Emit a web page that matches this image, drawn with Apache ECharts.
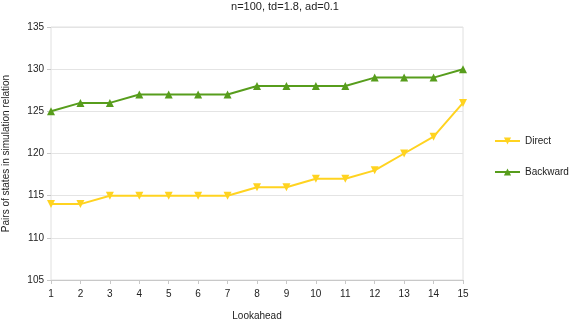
<!DOCTYPE html>
<html><head><meta charset="utf-8">
<script src="https://cdn.jsdelivr.net/npm/echarts@6/dist/echarts.min.js"></script>
<style>html,body{margin:0;padding:0;background:#fff}#c{width:570px;height:320px}</style>
</head><body><div id="c"></div>
<script>
const categories = ['1','2','3','4','5','6','7','8','9','10','11','12','13','14','15'];
const directValues = [114,114,115,115,115,115,115,116,116,117,117,118,120,122,126];
const backwardValues = [125,126,126,127,127,127,127,128,128,128,128,129,129,129,130];
const titleText = 'n=100, td=1.8, ad=0.1';
const yName = 'Pairs of states in simulation relation';
const xName = 'Lookahead';

const font = '"Liberation Sans", Arial, sans-serif';
const chart = echarts.init(document.getElementById('c'), null, {renderer:'canvas'});
chart.setOption({
  animation: false,
  textStyle: {fontFamily: font},
  title: {text: titleText, left: 'center', top: 1, padding: 0,
    textStyle: {fontSize: 11, fontWeight: 'normal', color: '#222', fontFamily: font}},
  legend: {orient: 'vertical', left: 494, top: 136, padding: 0, itemGap: 21, itemWidth: 25, itemHeight: 9,
    textStyle: {fontSize: 10, color: '#222', fontFamily: font},
    data: ['Direct','Backward']},
  grid: {left: 51, right: 107, top: 27, bottom: 40, containLabel: false, outerBoundsMode: 'none',
    show: true, borderColor: '#e0e0e0', borderWidth: 1},
  xAxis: {type: 'category', data: categories, boundaryGap: false,
    name: xName, nameLocation: 'middle', nameGap: 31,
    nameTextStyle: {fontSize: 10, color: '#222', fontFamily: font},
    axisLine: {lineStyle: {color: '#c8c8c8', width: 1}},
    axisTick: {show: true, length: 4, lineStyle: {color: '#c8c8c8'}},
    axisLabel: {fontSize: 10, color: '#222', margin: 9, fontFamily: font},
    splitLine: {show: false}},
  yAxis: {type: 'value', min: 105, max: 135, interval: 5,
    name: yName, nameLocation: 'middle', nameGap: 40,
    nameTextStyle: {fontSize: 10, color: '#222', fontFamily: font},
    axisLine: {show: false},
    axisTick: {show: true, length: 4, lineStyle: {color: '#c8c8c8'}},
    axisLabel: {fontSize: 10, color: '#222', margin: 7, fontFamily: font},
    splitLine: {show: true, lineStyle: {color: '#e4e4e4'}}},
  series: [
    {name: 'Direct', type: 'line', data: directValues, symbol: 'triangle', symbolRotate: 180,
     symbolSize: 8, lineStyle: {color: '#ffd320', width: 2}, itemStyle: {color: '#ffd320'}},
    {name: 'Backward', type: 'line', data: backwardValues, symbol: 'triangle',
     symbolSize: 8, lineStyle: {color: '#579d1c', width: 2}, itemStyle: {color: '#579d1c'}}
  ]
});
</script></body></html>
